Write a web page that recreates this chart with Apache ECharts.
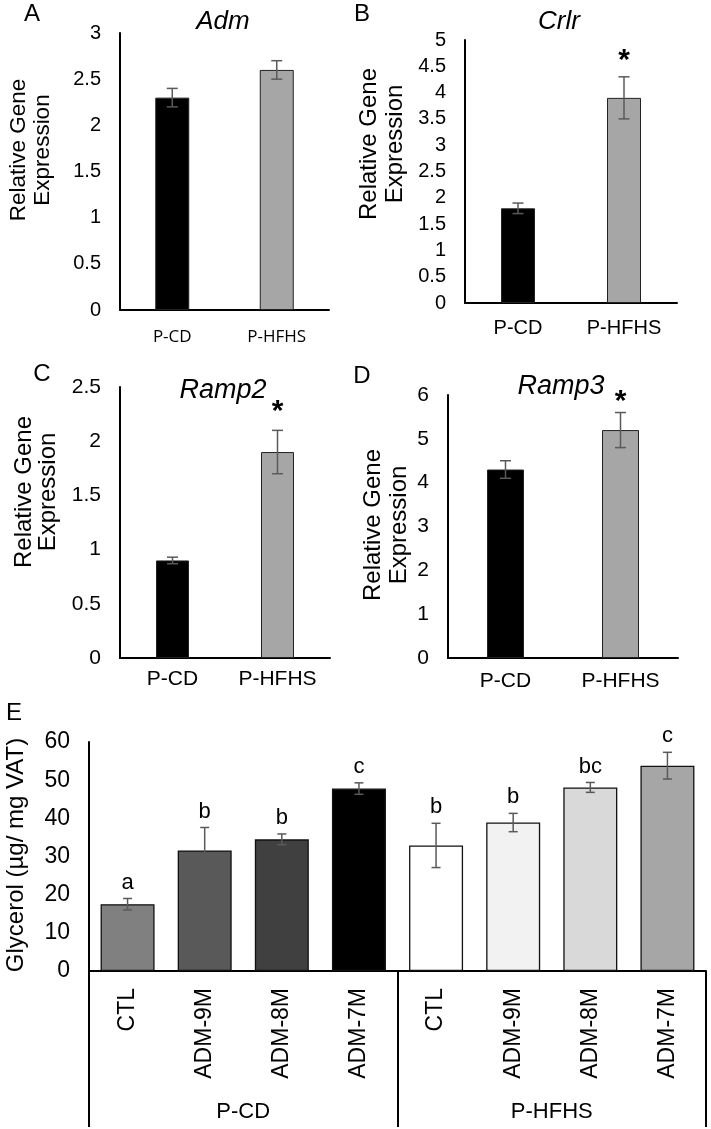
<!DOCTYPE html>
<html>
<head>
<meta charset="utf-8">
<script src="https://cdn.jsdelivr.net/npm/echarts@6/dist/echarts.min.js"></script>
<style>
html,body{margin:0;padding:0;background:#fff;}
#chart{width:711px;height:1129px;}
</style>
</head>
<body>
<div id="chart"></div>
<script>
// ---------------- data ----------------
const dietCats = ['P-CD', 'P-HFHS'];

const admMean = [2.3, 2.6];
const admErr = [0.1, 0.1];
const admSig = ['', ''];

const crlrMean = [1.8, 3.9];
const crlrErr = [0.1, 0.4];
const crlrSig = ['', '*'];

const ramp2Mean = [0.9, 1.9];
const ramp2Err = [0.03, 0.2];
const ramp2Sig = ['', '*'];

const ramp3Mean = [4.3, 5.2];
const ramp3Err = [0.2, 0.4];
const ramp3Sig = ['', '*'];

const glyGroups = ['P-CD', 'P-HFHS'];
const glyDoses = ['CTL', 'ADM-9M', 'ADM-8M', 'ADM-7M'];
const glyMean = [17.5, 31.6, 34.5, 47.8, 32.9, 38.9, 48.1, 53.8];
const glyErr = [1.5, 6.0, 1.4, 1.5, 5.8, 2.4, 1.3, 3.5];
const glyLetters = ['a', 'b', 'b', 'c', 'b', 'b', 'bc', 'c'];

// ---------------- styling / layout ----------------
const FONT = '"Liberation Sans", Arial, sans-serif';
const ERR_COLOR = '#5a5a5a';
const dietFills = ['#000000', '#a6a6a6'];
const glyFills = ['#808080', '#595959', '#404040', '#000000', '#ffffff', '#f2f2f2', '#d9d9d9', '#a6a6a6'];

const glyCats = [];
glyGroups.forEach(g => glyDoses.forEach(d => glyCats.push(g + '|' + d)));

const panels = [
  {mean: admMean, err: admErr, sig: admSig, grid: {left: 120, top: 33, width: 209, height: 277},
   max: 3, interval: 0.5, barW: 34, xFont: '"Open Sans", sans-serif', xSize: 17, xMargin: 19, sigOff: 0, cap: 11, ySize: 20},
  {mean: crlrMean, err: crlrErr, sig: crlrSig, grid: {left: 465, top: 40, width: 212, height: 263},
   max: 5, interval: 0.5, barW: 34, xFont: FONT, xSize: 20, xMargin: 15, sigOff: 16, cap: 11, ySize: 20},
  {mean: ramp2Mean, err: ramp2Err, sig: ramp2Sig, grid: {left: 120, top: 387, width: 210, height: 271},
   max: 2.5, interval: 0.5, barW: 33, xFont: FONT, xSize: 21, xMargin: 11, sigOff: 19, cap: 11, ySize: 21},
  {mean: ramp3Mean, err: ramp3Err, sig: ramp3Sig, grid: {left: 448, top: 395, width: 230, height: 263},
   max: 6, interval: 1, barW: 37, xFont: FONT, xSize: 21, xMargin: 13, sigOff: 11, cap: 11, ySize: 21}
];

const grids = [], xAxes = [], yAxes = [], series = [];

function errSeries(gi, mean, err, labels, cap, labelOff, labelFont, labelAlign) {
  return {
    type: 'custom', xAxisIndex: gi, yAxisIndex: gi, z: 10, silent: true,
    data: mean.map((m, i) => [i, m, err[i]]),
    renderItem: function (params, api) {
      const x = api.value(0), m = api.value(1), e = api.value(2);
      const top = api.coord([x, m + e]);
      const bot = api.coord([x, m - e]);
      const hw = cap / 2;
      const st = {stroke: ERR_COLOR, lineWidth: 1.5};
      const children = [
        {type: 'line', shape: {x1: top[0], y1: top[1], x2: bot[0], y2: bot[1]}, style: st},
        {type: 'line', shape: {x1: top[0] - hw, y1: top[1], x2: top[0] + hw, y2: top[1]}, style: st},
        {type: 'line', shape: {x1: bot[0] - hw, y1: bot[1], x2: bot[0] + hw, y2: bot[1]}, style: st}
      ];
      const lab = labels[params.dataIndex];
      if (lab) {
        children.push({type: 'text', x: top[0], y: top[1] - labelOff,
          style: {text: lab, font: labelFont, fill: '#000', align: 'center', verticalAlign: labelAlign}});
      }
      return {type: 'group', children: children};
    }
  };
}

panels.forEach((p, gi) => {
  grids.push(Object.assign({containLabel: false}, p.grid));
  xAxes.push({
    type: 'category', gridIndex: gi, data: dietCats,
    axisLine: {lineStyle: {color: '#000', width: 2}},
    axisTick: {show: false},
    axisLabel: {color: '#000', fontFamily: p.xFont, fontSize: p.xSize, margin: p.xMargin}
  });
  yAxes.push({
    type: 'value', gridIndex: gi, min: 0, max: p.max, interval: p.interval,
    axisLine: {show: true, lineStyle: {color: '#000', width: 2}},
    axisTick: {show: false}, splitLine: {show: false},
    axisLabel: {color: '#000', fontFamily: FONT, fontSize: p.ySize, margin: 19}
  });
  series.push({
    type: 'bar', xAxisIndex: gi, yAxisIndex: gi, barWidth: p.barW,
    data: p.mean.map((v, i) => ({value: v, itemStyle: {color: dietFills[i], borderColor: '#222', borderWidth: 1}}))
  });
  series.push(errSeries(gi, p.mean, p.err, p.sig, p.cap, p.sigOff, 'bold 30px ' + FONT, 'middle'));
});

// panel E
const gE = panels.length;
grids.push({left: 89, top: 742, width: 617, height: 229});
xAxes.push({
  type: 'category', gridIndex: gE, data: glyCats,
  axisLine: {lineStyle: {color: '#000', width: 2}},
  axisTick: {show: false},
  axisLabel: {color: '#000', fontFamily: FONT, fontSize: 23, rotate: 90, margin: 17, interval: 0,
    formatter: v => v.split('|')[1]}
});
xAxes.push({
  type: 'category', gridIndex: gE, data: glyGroups, position: 'bottom',
  axisLine: {show: false},
  axisTick: {show: true, length: 156, lineStyle: {color: '#000', width: 2}},
  axisLabel: {color: '#000', fontFamily: FONT, fontSize: 22, margin: 130}
});
yAxes.push({
  type: 'value', gridIndex: gE, min: 0, max: 60, interval: 10,
  axisLine: {show: true, lineStyle: {color: '#000', width: 2}},
  axisTick: {show: false}, splitLine: {show: false},
  axisLabel: {color: '#000', fontFamily: FONT, fontSize: 23, margin: 19}
});
series.push({
  type: 'bar', xAxisIndex: gE, yAxisIndex: gE, barWidth: 54,
  data: glyMean.map((v, i) => ({value: v, itemStyle: {color: glyFills[i], borderColor: '#111', borderWidth: 1.3}}))
});
series.push(errSeries(gE, glyMean, glyErr, glyLetters, 9, 5, '22px "Liberation Sans Narrow", ' + FONT, 'bottom'));

// ---------------- texts ----------------
function txt(x, y, text, size, extra) {
  return Object.assign({type: 'text', x: x, y: y, silent: true,
    style: Object.assign({text: text, fontSize: size, fontFamily: FONT, fill: '#000', align: 'center', verticalAlign: 'middle'}, (extra && extra.style) || {})},
    extra && extra.rotation !== undefined ? {rotation: extra.rotation} : {});
}
const R = Math.PI / 2;
const graphics = [
  txt(32, 14, 'A', 24), txt(362, 14, 'B', 24), txt(42, 374, 'C', 24), txt(362, 376, 'D', 24), txt(14, 713, 'E', 24),
  txt(223, 22, 'Adm', 26, {style: {fontStyle: 'italic'}}),
  txt(559, 22, 'Crlr', 26, {style: {fontStyle: 'italic'}}),
  txt(223, 390, 'Ramp2', 27, {style: {fontStyle: 'italic'}}),
  txt(561, 386, 'Ramp3', 27, {style: {fontStyle: 'italic'}}),
  txt(31, 150, 'Relative Gene\nExpression', 22.5, {rotation: R, style: {lineHeight: 24}}),
  txt(382, 144, 'Relative Gene\nExpression', 24, {rotation: R, style: {lineHeight: 26}}),
  txt(36, 492, 'Relative Gene\nExpression', 24, {rotation: R, style: {lineHeight: 24}}),
  txt(386, 525, 'Relative Gene\nExpression', 24, {rotation: R, style: {lineHeight: 26}}),
  txt(16, 855, 'Glycerol (µg/ mg VAT)', 24, {rotation: R})
];

const chart = echarts.init(document.getElementById('chart'), null, {renderer: 'canvas'});
chart.setOption({
  animation: false,
  backgroundColor: '#fff',
  grid: grids, xAxis: xAxes, yAxis: yAxes, series: series, graphic: graphics
});
</script>
</body>
</html>
